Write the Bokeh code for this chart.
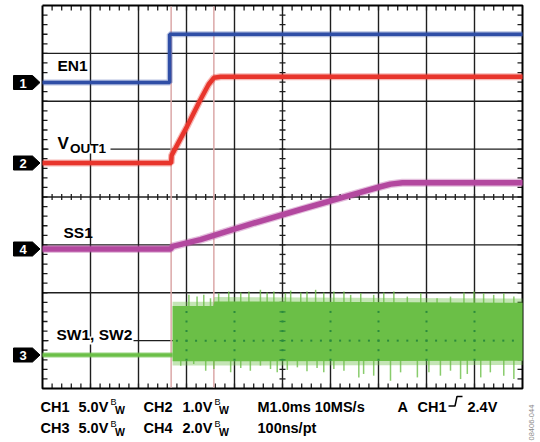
import math
from bokeh.plotting import figure
from bokeh.models import Range1d
from bokeh.core.properties import value
from bokeh.embed import file_html
from bokeh.resources import INLINE

# ---------------- data (time in ms, 1 ms/div; values in volts) ----------------
en1_t = [0.0, 2.65, 2.65, 10.0]
en1_v = [0.0, 0.0, 5.05, 5.05]

vout1_t = [0.0, 2.68, 2.69, 3.01, 3.29, 3.46, 3.57, 3.71, 10.0]
vout1_v = [0.0, 0.0, 0.16, 0.76, 1.32, 1.64, 1.78, 1.80, 1.80]

ss1_t = [0.0, 2.67, 2.71, 3.29, 4.33, 5.375, 6.42, 7.0, 7.25, 7.5, 10.0]
ss1_v = [0.0, 0.0, 0.11, 0.39, 1.04, 1.65, 2.25, 2.58, 2.71, 2.77, 2.77]

sw_t = [0.0, 2.71]
sw_v = [0.0, 0.0]
sw_band_t = [2.71, 3.56, 3.58, 10.0]
sw_band_hi = [5.12, 5.12, 5.60, 5.45]
sw_band_lo = [-0.65, -0.65, -0.65, -0.60]
sw_up_t = [3.05, 3.22, 3.36, 3.50, 3.67, 3.88, 4.13, 4.30, 4.54, 4.68, 4.82, 5.06, 5.17,
           5.38, 5.51, 5.69, 5.86, 6.07, 6.28, 6.42, 6.63, 6.90, 7.11, 7.32, 7.60, 7.88,
           8.22, 8.50, 8.78, 8.99, 9.19, 9.40, 9.61, 9.82]
sw_up_v = [6.28, 6.10, 6.28, 5.93, 6.46, 6.63, 6.52, 6.63, 6.81, 6.52, 6.63, 6.46, 6.73,
           6.52, 6.63, 6.81, 6.52, 6.63, 6.63, 6.28, 6.46, 6.28, 6.52, 6.63, 6.10, 6.46,
           5.93, 6.10, 6.52, 6.63, 6.46, 6.28, 6.46, 6.10]
sw_dn_t = [2.88, 3.15, 3.40, 3.57, 3.92, 4.13, 4.33, 4.54, 4.75, 4.89, 5.10, 5.31, 5.51,
           5.72, 5.86, 6.07, 6.28, 6.59, 6.69, 6.90, 7.25, 7.46, 7.81, 8.05, 8.29, 8.50,
           8.71, 8.85, 9.13, 9.33, 9.61, 9.82]
sw_dn_v = [-1.11, -0.93, -1.64, -1.46, -1.81, -1.35, -1.64, -1.11, -1.46, -1.81, -1.56,
           -1.29, -1.71, -1.35, -1.81, -1.46, -1.64, -2.34, -1.98, -2.16, -2.69, -1.81,
           -2.34, -1.81, -2.16, -1.64, -2.51, -1.98, -2.34, -1.81, -2.16, -2.51]

cursor_t = [2.68, 3.57]

labels_row1 = ["CH1", "5.0V", "CH2", "1.0V", "M1.0ms 10MS/s", "A", "CH1", "2.4V"]
labels_row2 = ["CH3", "5.0V", "CH4", "2.0V", "100ns/pt"]

# ---------------- layout constants (page pixel coordinates) ----------------
W, H = 540, 442
X0, X1, Y0, Y1 = 42, 522, 5, 388     # graticule box
DX = (X1 - X0) / 10.0
DY = (Y1 - Y0) / 8.0
FONT = value("Liberation Sans")

# channel: (volts/div, ground marker y in px, marker label)
channels = {"ch1": (5.0, 82.0, "1"), "ch2": (1.0, 162.5, "2"),
            "ch4": (2.0, 248.5, "4"), "ch3": (5.0, 354.5, "3")}

p = figure(width=W, height=H, output_backend="svg", toolbar_location=None,
           x_range=Range1d(0, W), y_range=Range1d(H, 0),
           min_border=0, min_border_left=0, min_border_right=0,
           min_border_top=0, min_border_bottom=0)
p.axis.visible = False
p.xgrid.visible = False
p.ygrid.visible = False
p.outline_line_color = None
p.background_fill_color = "white"
p.border_fill_color = "white"

p.extra_x_ranges = {"t": Range1d((0 - X0) / DX, (W - X0) / DX)}
yr = {}
for name, (s, g, _) in channels.items():
    yr[name] = Range1d((g - H) * s / DY, g * s / DY)
p.extra_y_ranges = yr

GRID = "#1e1e1e"
# grid lines
vx = [X0 + DX * k for k in range(1, 10)]
p.segment(x0=vx, y0=[Y0] * 9, x1=vx, y1=[Y1] * 9, line_color=GRID, line_width=1.4)
hy = [Y1 - DY * k for k in range(1, 8)]
p.segment(x0=[X0] * 7, y0=hy, x1=[X1] * 7, y1=hy, line_color=GRID, line_width=1.4)

# ticks
tx = [X0 + DX / 5 * j for j in range(1, 50)]
ty = [Y1 - DY / 5 * j for j in range(1, 40)]
xc = X0 + 5 * DX
yc = Y1 - 4 * DY
sx0, sy0, sx1, sy1 = [], [], [], []
for x in tx:
    sx0 += [x, x, x]; sx1 += [x, x, x]
    sy0 += [Y1, Y0, yc - 3]; sy1 += [Y1 - 5, Y0 + 5, yc + 3]
for y in ty:
    sy0 += [y, y, y]; sy1 += [y, y, y]
    sx0 += [X0, X1, xc - 3]; sx1 += [X0 + 5, X1 - 5, xc + 3]
p.segment(x0=sx0, y0=sy0, x1=sx1, y1=sy1, line_color=GRID, line_width=1.3)

# border
p.line(x=[X0, X1, X1, X0, X0], y=[Y0, Y0, Y1, Y1, Y0], line_color="black", line_width=2)

# cursors
p.segment(x0=cursor_t, y0=[Y0 + 1] * 2, x1=cursor_t, y1=[Y1 - 1] * 2, x_range_name="t",
          line_color="#dba8a8", line_width=1.5)

# white backgrounds behind labels that sit on grid lines
p.quad(left=[48, 48], right=[110, 133], top=[144, 336], bottom=[153, 344],
       fill_color="white", line_color=None)


def trace(t, v, ch, color, w):
    p.line(x=t, y=v, x_range_name="t", y_range_name=ch, line_color=color,
           line_width=w + 2.5, line_alpha=0.35)
    p.line(x=t, y=v, x_range_name="t", y_range_name=ch, line_color=color, line_width=w)


trace(en1_t, en1_v, "ch1", "#2f4ea6", 3.5)
trace(vout1_t, vout1_v, "ch2", "#e8352c", 4.5)
trace(ss1_t, ss1_v, "ch4", "#b3489f", 5.5)

GREEN = "#6bbf47"
trace(sw_t, sw_v, "ch3", GREEN, 3.5)
p.segment(x0=sw_up_t, y0=[5.0] * len(sw_up_t), x1=sw_up_t, y1=sw_up_v, x_range_name="t",
          y_range_name="ch3", line_color=GREEN, line_width=1.5, line_alpha=0.8)
p.segment(x0=sw_dn_t, y0=[-0.5] * len(sw_dn_t), x1=sw_dn_t, y1=sw_dn_v, x_range_name="t",
          y_range_name="ch3", line_color=GREEN, line_width=1.5, line_alpha=0.8)
p.varea(x=sw_band_t, y1=[h + 0.45 for h in sw_band_hi], y2=[l - 0.45 for l in sw_band_lo],
        x_range_name="t", y_range_name="ch3", fill_color=GREEN, fill_alpha=0.4)
p.varea(x=sw_band_t, y1=sw_band_hi, y2=sw_band_lo, x_range_name="t", y_range_name="ch3",
        fill_color=GREEN, fill_alpha=1.0)

# graticule dots seen through the green band
band_top, band_bot = 302, 362
band_left = X0 + cursor_t[0] * DX + 2
dx_, dy_ = [], []
for x in vx:
    if x > band_left:
        for y in ty:
            if band_top < y < band_bot:
                dx_.append(x); dy_.append(y)
ygl = Y1 - DY
for x in tx:
    if x > band_left:
        dx_.append(x); dy_.append(ygl)
p.rect(x=dx_, y=dy_, width=2, height=2, fill_color="#2b8a3c", line_color=None)
cy = [y for y in ty if band_top < y < band_bot]
p.segment(x0=[xc - 3] * len(cy), y0=cy, x1=[xc + 3] * len(cy), y1=cy,
          line_color="#2b8a3c", line_width=1.3)

# channel markers
mx, my = [], []
for name, (s, g, lab) in channels.items():
    mx.append([13, 32, 39.5, 32, 13])
    my.append([g - 7, g - 7, g, g + 7, g + 7])
p.patches(xs=mx, ys=my, fill_color="black", line_color="black")
p.text(x=[22.5] * 4, y=[c[1] + 0.5 for c in channels.values()],
       text=[c[2] for c in channels.values()],
       text_font=FONT, text_font_style="bold", text_font_size="13px", text_color="white",
       text_align="center", text_baseline="middle")

# trace labels
p.text(x=[57, 63, 56], y=[65, 232, 334], text=["EN1", "SS1", "SW1, SW2"], text_font=FONT,
       text_font_style="bold", text_font_size="15.5px", text_color="black",
       text_baseline="alphabetic")
p.text(x=[57], y=[143], text=["V"], text_font=FONT, text_font_style="bold",
       text_font_size="17px", text_color="black", text_baseline="alphabetic")
p.text(x=[69.5], y=[147.5], text=["OUT1"], text_font=FONT, text_font_style="bold",
       text_font_size="13.5px", text_color="black", text_baseline="alphabetic")

# bottom status text
r1x = [40, 78, 143, 182, 257, 397, 417, 467]
r2x = [40, 78, 143, 182, 257]
p.text(x=r1x, y=[406] * len(r1x), text=labels_row1, text_font=FONT, text_font_style="bold",
       text_font_size="14.5px", text_color="black", text_baseline="alphabetic")
p.text(x=r2x, y=[427.5] * len(r2x), text=labels_row2, text_font=FONT, text_font_style="bold",
       text_font_size="14.5px", text_color="black", text_baseline="alphabetic")
p.text(x=[110, 214, 110, 214], y=[401.5, 401.5, 423, 423], text=["B"] * 4,
       text_font=FONT, text_font_size="9px", text_color="black", text_baseline="alphabetic")
p.text(x=[114.5, 218.5, 114.5, 218.5], y=[409.5, 409.5, 431, 431], text=["W"] * 4,
       text_font=FONT, text_font_style="bold", text_font_size="10.5px", text_color="black",
       text_baseline="alphabetic")
p.line(x=[448, 454.5, 456.5, 462], y=[405.5, 405.5, 396, 396], line_color="black",
       line_width=1.5)

# figure number, vertical
p.text(x=[531], y=[440], text=["08406-044"], angle=math.pi / 2, text_font=FONT,
       text_font_size="7.5px", text_color="#8a8a8a", text_align="left",
       text_baseline="middle")

open("out.html", "w").write(file_html(p, INLINE))
